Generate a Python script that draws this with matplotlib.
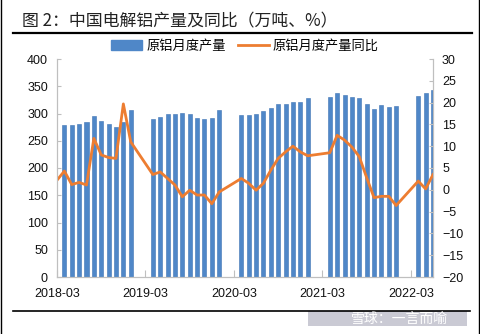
import matplotlib
matplotlib.use('Agg')
import matplotlib.pyplot as plt
from matplotlib.lines import Line2D
from matplotlib.patches import Patch, Rectangle

plt.rcParams['font.family'] = ['Liberation Sans', 'Noto Sans CJK SC']

# ---- data ----
# month categories (2018-02 .. 2022-05)
months = [f'{y}-{m:02d}' for y in range(2018, 2023) for m in range(1, 13)]
months = months[months.index('2018-02'):months.index('2022-05') + 1]

prod_months_per_year = [f'{m:02d}' for m in range(3, 13)]
prod_2018 = [279, 278, 280, 285, 295, 286, 280, 275, 284, 307]
prod_2019 = [290, 294, 299, 299, 301, 299, 292, 290, 292, 306]
prod_2020 = [298, 298, 299, 304, 311, 318, 318, 322, 321, 328]
prod_2021 = [330, 337, 334, 331, 328, 317, 309, 315, 312, 313]
prod_2022 = [332, 338, 343]

yoy_2018_02 = [2.2]
yoy_2018 = [4.3, 1.2, 1.7, 1.1, 11.8, 8.0, 7.4, 7.2, 19.7, 11.0]
yoy_2019 = [3.5, 4.1, 2.6, 1.1, -1.6, -0.1, -1.2, -1.2, -3.2, -0.5]
yoy_2020 = [2.6, 1.5, -0.1, 1.5, 4.5, 7.2, 8.7, 10.0, 8.7, 7.8]
yoy_2021 = [8.5, 12.5, 11.4, 9.8, 7.6, 2.8, -1.8, -1.5, -1.5, -3.6]
yoy_2022 = [2.0, 0.2, 3.5]

tick_labels = ['2018-03', '2019-03', '2020-03', '2021-03', '2022-03']
tick_months = ['2018-02', '2019-02', '2020-02', '2021-02', '2022-02']

series_name_bar = '原铝月度产量'
series_name_line = '原铝月度产量同比'
title = '图 2：中国电解铝产量及同比（万吨、%）'
watermark = '雪球：一言而喻'

# ---- assemble ----
prod_x, prod_v, yoy_x, yoy_v = [], [], [], []
for year, pv, yv in [(2018, prod_2018, yoy_2018), (2019, prod_2019, yoy_2019),
                     (2020, prod_2020, yoy_2020), (2021, prod_2021, yoy_2021),
                     (2022, prod_2022, yoy_2022)]:
    for mm, v in zip(prod_months_per_year, pv):
        prod_x.append(months.index(f'{year}-{mm}'))
        prod_v.append(v)
    for mm, v in zip(prod_months_per_year, yv):
        yoy_x.append(months.index(f'{year}-{mm}'))
        yoy_v.append(v)
yoy_x = [months.index('2018-02')] + yoy_x
yoy_v = yoy_2018_02 + yoy_v

# ---- figure ----
W, H = 481, 334
fig = plt.figure(figsize=(W / 100, H / 100), dpi=100)
ax = fig.add_axes([57 / W, 1 - 277 / H, (433 - 57) / W, (277 - 59) / H])
ax2 = ax.twinx()

bar_color = '#4F87C8'
line_color = '#ED7D31'
grey = '#BFBFBF'

ax.bar(prod_x, prod_v, width=0.55, color=bar_color, edgecolor='#3F74B3', linewidth=0.4)
ax2.plot(yoy_x, yoy_v, color=line_color, lw=2.0, solid_joinstyle='round')

ax.set_xlim(0, 51.0)
ax.set_ylim(0, 400)
ax.set_yticks(range(0, 401, 50))
ax2.set_ylim(-20, 30)
ax2.set_yticks(range(-20, 31, 5))
ax.set_xticks([months.index(m) for m in tick_months])
ax.set_xticklabels(tick_labels)

for a in (ax, ax2):
    a.spines['top'].set_visible(False)
    for s in ('left', 'right', 'bottom'):
        a.spines[s].set_color(grey)
        a.spines[s].set_linewidth(0.8)
ax.tick_params(axis='y', direction='in', length=3, color=grey, labelsize=9, pad=6.5, labelcolor='#111111')
ax.tick_params(axis='x', direction='in', length=5, color=grey, labelsize=9, pad=8, labelcolor='#111111')
ax2.tick_params(axis='y', direction='in', length=3, color=grey, labelsize=9, pad=6.5, labelcolor='#111111')

# legend
handles = [Patch(facecolor=bar_color, edgecolor=bar_color),
           Line2D([0], [0], color=line_color, lw=2.0)]
fig.legend(handles, [series_name_bar, series_name_line], loc='center',
           bbox_to_anchor=(245 / W, 1 - 46 / H), ncol=2, frameon=False,
           prop={'family': ['Noto Sans CJK SC'], 'size': 9.5},
           handlelength=2.35, handletextpad=0.3, columnspacing=0.9)

# title and frame lines
fig.text(22 / W, 1 - 21 / H, title, fontsize=12.2, va='center', ha='left',
         family=['Noto Sans CJK SC'], color='#222222')
fig.add_artist(Line2D([13 / W, 472 / W], [1 - 33 / H, 1 - 33 / H], color='black', lw=1.6))
fig.add_artist(Line2D([13 / W, 470 / W], [1 - 311 / H, 1 - 311 / H], color='black', lw=1.2))
fig.add_artist(Line2D([0.8 / W, 0.8 / W], [0, 1], color='black', lw=1.0))
fig.add_artist(Line2D([1 - 1.5 / W, 1 - 1.5 / W], [0, 1], color='black', lw=1.0))

# watermark
fig.add_artist(Rectangle((308 / W, 1 - 326 / H), (467 - 308) / W, 15 / H,
                         transform=fig.transFigure, facecolor='#CACAD4', edgecolor='none'))
fig.text(400 / W, 1 - 318.5 / H, watermark, fontsize=10, ha='center', va='center',
         family=['Noto Sans CJK SC'], color='white')

fig.savefig('out.png', dpi=100)
